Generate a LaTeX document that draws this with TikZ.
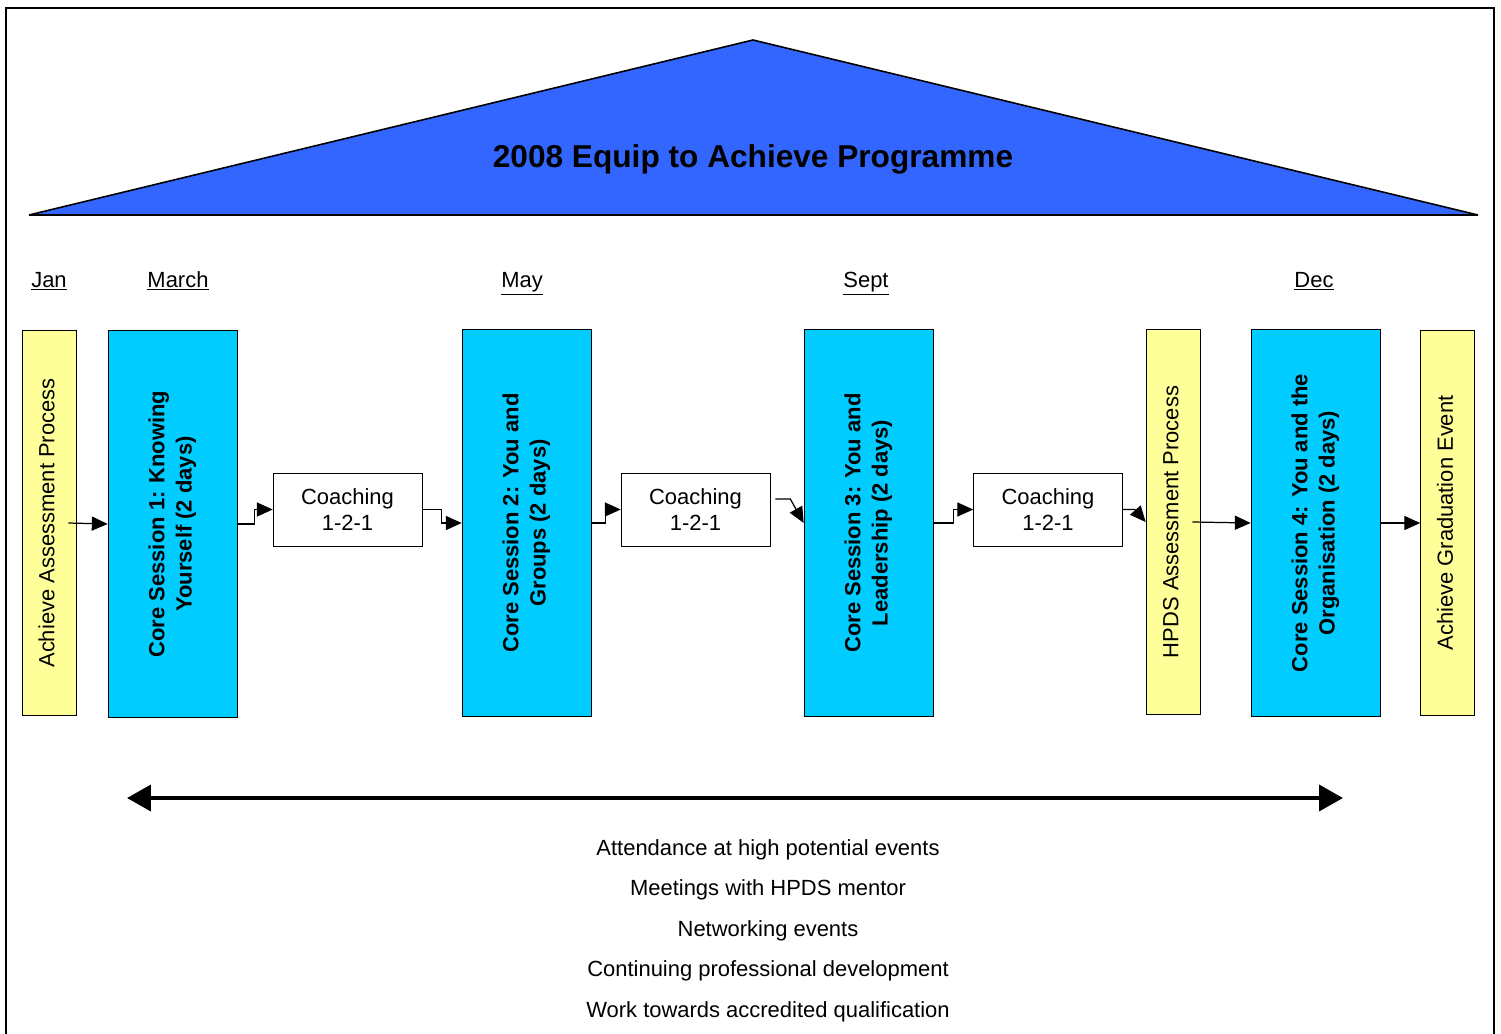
\documentclass[tikz,border=0pt]{standalone}
\usepackage{fontspec}
\setmainfont{Liberation Sans}
\usetikzlibrary{arrows.meta}

\definecolor{roofblue}{HTML}{3366FF}
\definecolor{corecyan}{HTML}{00CCFF}
\definecolor{paleyellow}{HTML}{FFFF99}

\newcommand{\vtext}[1]{\rotatebox{90}{\begin{tabular}{@{}c@{}}#1\end{tabular}}}

\tikzset{
  every node/.style={font=\fontsize{12.5}{15}\selectfont},
  corebox/.style={draw=black, fill=corecyan, minimum width=2.58cm, minimum height=7.74cm, inner sep=0pt, font=\fontsize{12.5}{15.5}\selectfont\bfseries},
  stagebox/.style={draw=black, fill=paleyellow, minimum width=1.08cm, minimum height=7.70cm, inner sep=0pt},
  coachbox/.style={draw=black, fill=white, minimum width=2.98cm, minimum height=1.46cm, align=center, inner sep=0pt},
  monthlabel/.style={anchor=base},
  conn/.style={line width=0.7pt, -{Triangle[length=9pt,width=8pt]}},
}

\begin{document}
\begin{tikzpicture}[x=0.02cm, y=-0.02cm]
\useasboundingbox (0,0) rectangle (1501,1034);

% frame and roof
\draw[line width=1.2pt] (6,1040) -- (6,8) -- (1494,8) -- (1494,1040);
\draw[fill=roofblue, line width=0.9pt, line join=bevel] (29,215) -- (753,40) -- (1478,215) -- cycle;
\node[font=\fontsize{18}{21}\selectfont\bfseries] (title) at (753,159) {2008 Equip to Achieve Programme};

% months
\foreach \m/\x in {Jan/49, March/178, May/522, Sept/866, Dec/1314}
   \node[monthlabel] (month\m) at (\x,287) {\underline{\m}};

% boxes
\node[stagebox] (jan) at (49,523) {\vtext{Achieve Assessment Process}};
\node[corebox] (core1) at (172.5,524) {\vtext{Core Session 1: Knowing\\Yourself (2 days)}};
\node[coachbox] (coach1) at (347.5,509.5) {Coaching\\1-2-1};
\node[corebox] (core2) at (526.5,523) {\vtext{Core Session 2: You and\\Groups (2 days)}};
\node[coachbox] (coach2) at (695.5,509.5) {Coaching\\1-2-1};
\node[corebox] (core3) at (868.5,523) {\vtext{Core Session 3: You and\\Leadership (2 days)}};
\node[coachbox] (coach3) at (1048,509.5) {Coaching\\1-2-1};
\node[stagebox] (hpds) at (1173,522) {\vtext{HPDS Assessment Process}};
\node[corebox] (core4) at (1315.5,523) {\vtext{Core Session 4: You and the\\Organisation (2 days)}};
\node[stagebox] (grad) at (1447.5,523) {\vtext{Achieve Graduation Event}};

% connectors
\draw[conn] ([shift={(-8,0)}]jan.east) -- (core1.west);
\draw[conn] (core1.east) -- ++(17,0) |- (coach1.west);
\draw[conn] (coach1.east) -- ++(19,0) |- (core2.west);
\draw[conn] (core2.east) -- ++(14,0) |- (coach2.west);
\draw[conn] ([shift={(5,-10.5)}]coach2.east) -- ++(15,0) -- (core3.west);
\draw[conn] (core3.east) -- ++(20,0) |- (coach3.west);
\draw[conn] (coach3.east) -- ++(12,0) -- (hpds.west);
\draw[conn] ([shift={(-8,0)}]hpds.east) -- (core4.west);
\draw[conn] (core4.east) -- (grad.west);

% ongoing activities
\coordinate (spanL) at (127,798);
\coordinate (spanR) at (1343,798);
\draw[line width=2.3pt, {Triangle[length=13.6pt,width=14.7pt]}-{Triangle[length=13.6pt,width=14.7pt]}] (spanL) -- (spanR);
\foreach \t/\y [count=\i] in {Attendance at high potential events/855,
                               Meetings with HPDS mentor/895,
                               Networking events/936,
                               Continuing professional development/976,
                               Work towards accredited qualification/1017}
   \node[anchor=base] (activity\i) at (768,\y) {\t};
\end{tikzpicture}
\end{document}
